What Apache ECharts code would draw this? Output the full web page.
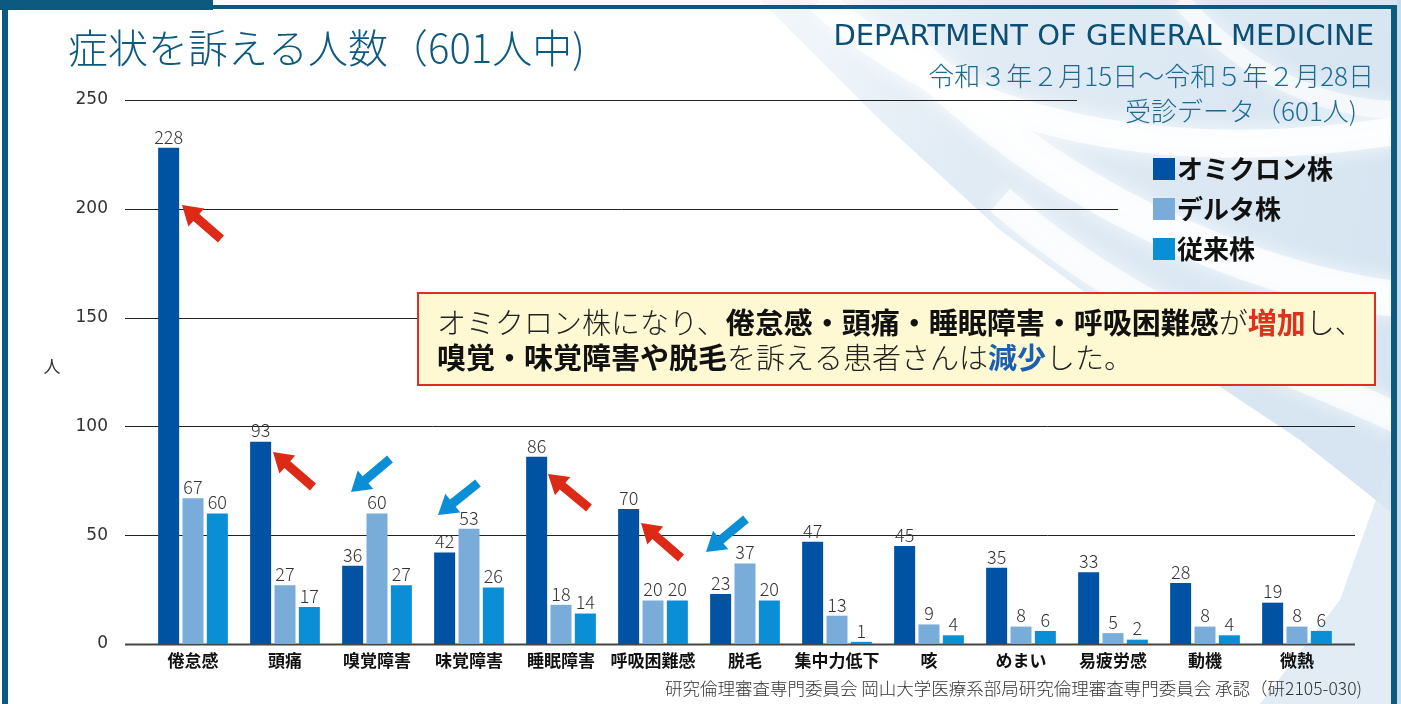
<!DOCTYPE html>
<html><head><meta charset="utf-8">
<script src="https://cdn.jsdelivr.net/npm/echarts@6/dist/echarts.min.js"></script>
<style>html,body{margin:0;padding:0;background:#fff}#c{width:1401px;height:704px}</style>
</head><body><div id="c"></div>
<script>
const categories = ['倦怠感','頭痛','嗅覚障害','味覚障害','睡眠障害','呼吸困難感','脱毛','集中力低下','咳','めまい','易疲労感','動機','微熱'];
const seriesNames = ['オミクロン株','デルタ株','従来株'];
const omicronValues = [228,93,36,42,86,62,23,47,45,35,33,28,19];
const omicronLabels = [228,93,36,42,86,70,23,47,45,35,33,28,19];
const deltaValues = [67,27,60,53,18,20,37,13,9,8,5,8,8];
const deltaLabels = [67,27,60,53,18,20,37,13,9,8,5,8,8];
const conventionalValues = [60,17,27,26,14,20,20,1,4,6,2,4,6];
const conventionalLabels = [60,17,27,26,14,20,20,1,4,6,2,4,6];
const yTicks = [0,50,100,150,200,250];

const CJK = '"Noto Sans CJK JP", "Noto Sans", sans-serif';
const colors = ['#0052a2', '#7aacda', '#0a8fd6'];
const chart = echarts.init(document.getElementById('c'));

function mkSeries(name, values, labels, color) {
  return {
    name: name, type: 'bar', barWidth: 21, barGap: '16%',
    itemStyle: { color: color },
    data: values.map((v, i) => ({ value: v, label: { formatter: String(labels[i]) } })),
    label: { show: true, position: 'top', distance: 2, color: '#333', fontSize: 18, fontWeight: 300, fontFamily: CJK },
    z: 3
  };
}

chart.setOption({
  animation: false,
  backgroundColor: '#ffffff',
  grid: { left: 147, right: 58, top: 100, bottom: 60 },
  legend: {
    data: seriesNames, orient: 'vertical', left: 1153, top: 156,
    itemWidth: 22, itemHeight: 22, itemGap: 14, icon: 'rect', padding: 0,
    textStyle: { fontSize: 26, fontWeight: 'bold', color: '#111', fontFamily: CJK, padding: [0, 0, 0, -3] }
  },
  xAxis: {
    type: 'category', data: categories,
    axisLine: { show: false }, axisTick: { show: false }, splitLine: { show: false },
    axisLabel: { interval: 0, margin: 8, fontSize: 17, fontWeight: 'bold', color: '#111', fontFamily: CJK }
  },
  yAxis: {
    type: 'value', min: 0, max: 250, interval: 50,
    axisLine: { show: false }, axisTick: { show: false }, splitLine: { show: false },
    axisLabel: { margin: 39, fontSize: 17, color: '#333', fontFamily: '"DejaVu Sans", sans-serif' }
  },
  series: [
    mkSeries(seriesNames[0], omicronValues, omicronLabels, colors[0]),
    mkSeries(seriesNames[1], deltaValues, deltaLabels, colors[1]),
    mkSeries(seriesNames[2], conventionalValues, conventionalLabels, colors[2])
  ]
});

const lineEnds = { 0: 1355, 50: 1355, 100: 1355, 150: 1355, 200: 1118, 250: 1077 };
const g = [];
// background swoosh
g.push({ type: 'polygon', z: 0, shape: { points: [[760,0],[880,120],[1000,230],[1150,340],[1300,440],[1401,520],[1401,0]] },
  style: { fill: new echarts.graphic.LinearGradient(0, 0, 1, 0.3, [
    { offset: 0, color: 'rgba(220,232,243,0.3)' }, { offset: 0.35, color: 'rgba(220,232,243,0.85)' }, { offset: 1, color: '#d6e5f1' }]) } });
g.push({ type: 'polygon', z: 0, shape: { points: [[1260,704],[1340,600],[1401,430],[1401,704]] },
  style: { fill: 'rgba(218,231,242,0.8)' } });
[[820,0,950,120,1150,170,1401,130,28,0.8],[900,40,1050,200,1250,280,1401,300,36,0.75],
 [1000,200,1150,330,1300,370,1401,420,30,0.7],[1180,0,1250,80,1330,110,1401,110,18,0.6]].forEach(p => {
  g.push({ type: 'bezierCurve', z: 0, shape: { x1: p[0], y1: p[1], cpx1: p[2], cpy1: p[3], cpx2: p[4], cpy2: p[5], x2: p[6], y2: p[7] },
    style: { fill: null, stroke: 'rgba(255,255,255,' + p[9] + ')', lineWidth: p[8], shadowBlur: 20, shadowColor: '#ffffff' } });
});
// grid lines from the axis scale
yTicks.forEach(t => {
  const y = Math.round(chart.convertToPixel({ yAxisIndex: 0 }, t)) + 0.5;
  g.push({ type: 'line', z: 1, shape: { x1: 125, y1: y, x2: lineEnds[t], y2: y },
    style: { stroke: t === 0 ? '#444' : '#222', lineWidth: t === 0 ? 2 : 1 } });
});
// frame
g.push({ type: 'rect', z: 20, shape: { x: 0, y: 5, width: 1397, height: 4 }, style: { fill: '#0d5a80' } });
g.push({ type: 'rect', z: 20, shape: { x: 0, y: 0, width: 213, height: 10 }, style: { fill: '#0d5a80' } });
g.push({ type: 'rect', z: 20, shape: { x: 2, y: 5, width: 6, height: 699 }, style: { fill: '#0d5a80' } });
g.push({ type: 'rect', z: 20, shape: { x: 1391, y: 5, width: 6, height: 699 }, style: { fill: '#0d5a80' } });
g.push({ type: 'rect', z: 19, shape: { x: 1397, y: 0, width: 4, height: 704 }, style: { fill: '#c9dced' } });
// titles
g.push({ type: 'text', z: 20, style: { x: 68, y: 48, text: '症状を訴える人数（601人中)', fill: '#0d5a80', fontSize: 40, fontWeight: 300, fontFamily: CJK, verticalAlign: 'middle' } });
g.push({ type: 'text', z: 20, style: { x: 1374, y: 37, text: 'DEPARTMENT OF GENERAL MEDICINE', fill: '#0b4f74', fontSize: 29, fontFamily: '"DejaVu Sans", sans-serif', align: 'right', verticalAlign: 'middle' } });
g.push({ type: 'text', z: 20, style: { x: 1374, y: 76, text: '令和３年２月15日〜令和５年２月28日', fill: '#1b6b91', fontSize: 26, fontWeight: 300, fontFamily: CJK, align: 'right', verticalAlign: 'middle' } });
g.push({ type: 'text', z: 20, style: { x: 1357, y: 111, text: '受診データ（601人)', fill: '#1b6b91', fontSize: 26, fontWeight: 300, fontFamily: CJK, align: 'right', verticalAlign: 'middle' } });
g.push({ type: 'text', z: 20, style: { x: 52, y: 367, text: '人', fill: '#333', fontSize: 17, fontFamily: CJK, align: 'center', verticalAlign: 'middle' } });
g.push({ type: 'text', z: 20, style: { x: 1362, y: 688, text: '研究倫理審査専門委員会 岡山大学医療系部局研究倫理審査専門委員会 承認（研2105-030)', fill: '#333', fontSize: 17.5, fontWeight: 300, fontFamily: CJK, align: 'right', verticalAlign: 'middle' } });
// annotation box
g.push({ type: 'rect', z: 20, shape: { x: 418, y: 293, width: 957, height: 92 }, style: { fill: '#fef8d3', stroke: '#dc2f1f', lineWidth: 2 } });
const fs = 29;
g.push({ type: 'text', z: 21, style: {
  x: 437, y: 340, verticalAlign: 'middle', fontSize: fs, fontFamily: CJK, fill: '#222', lineHeight: 35,
  text: '{n|オミクロン株になり、}{b|倦怠感・頭痛・睡眠障害・呼吸困難感}{n|が}{r|増加}{n|し、}\n{b|嗅覚・味覚障害や脱毛}{n|を訴える患者さんは}{u|減少}{n|した。}',
  rich: {
    n: { fontSize: fs, fontFamily: CJK, fill: '#222', fontWeight: 300, lineHeight: 35 },
    b: { fontSize: fs, fontFamily: CJK, fill: '#111', fontWeight: 'bold', lineHeight: 35 },
    r: { fontSize: fs, fontFamily: CJK, fill: '#e0301e', fontWeight: 'bold', lineHeight: 35 },
    u: { fontSize: fs, fontFamily: CJK, fill: '#1a5fb0', fontWeight: 'bold', lineHeight: 35 }
  } } });
// arrows
function arrow(tx, ty, sx, sy, color) {
  const dx = tx - sx, dy = ty - sy, L = Math.hypot(dx, dy);
  const ux = dx / L, uy = dy / L, px = -uy, py = ux;
  const hl = 19, hw = 12, sw = 4.5;
  const bx = tx - ux * hl, by = ty - uy * hl;
  const pts = [[tx, ty], [bx + px * hw, by + py * hw], [bx + px * sw, by + py * sw], [sx + px * sw, sy + py * sw],
    [sx - px * sw, sy - py * sw], [bx - px * sw, by - py * sw], [bx - px * hw, by - py * hw]];
  g.push({ type: 'polygon', z: 15, shape: { points: pts }, style: { fill: color } });
}
arrow(182, 205, 221, 239, '#dc2a16');
arrow(273, 452, 313, 487, '#dc2a16');
arrow(548, 474, 589, 508, '#dc2a16');
arrow(641, 523, 681, 558, '#dc2a16');
arrow(351, 492, 390, 459, '#0a8fd6');
arrow(438, 515, 478, 483, '#0a8fd6');
arrow(706, 552, 746, 519, '#0a8fd6');

chart.setOption({ graphic: { elements: g } });
</script></body></html>
